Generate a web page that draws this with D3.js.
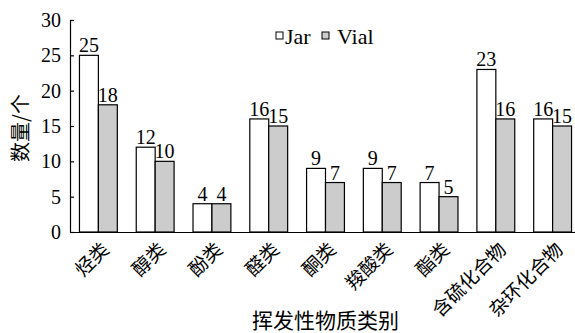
<!DOCTYPE html>
<html>
<head>
<meta charset="utf-8">
<script src="https://cdn.jsdelivr.net/npm/d3@7"></script>
<style>
  body { margin: 0; background: #fff; }
</style>
</head>
<body>
<div id="chart"></div>
<script>
// Chart data
const categories = ["烃类", "醇类", "酚类", "醛类", "酮类", "羧酸类", "酯类", "含硫化合物", "杂环化合物"];
const seriesNames = ["Jar", "Vial"];
const jarValues = [25, 12, 4, 16, 9, 9, 7, 23, 16];
const vialValues = [18, 10, 4, 15, 7, 7, 5, 16, 15];
const yTicks = [0, 5, 10, 15, 20, 25, 30];

const width = 575;
const height = 333;
const plot = { left: 70, right: 581, top: 20, bottom: 232 };
const colors = { Jar: "#ffffff", Vial: "#cccccc" };
const serif = "Liberation Serif, DejaVu Serif";
const cjk = "Noto Sans CJK SC";

const data = categories.map((c, i) => ({ cat: c, Jar: jarValues[i], Vial: vialValues[i] }));

const svg = d3.select("#chart")
    .append("svg")
    .attr("width", width)
    .attr("height", height);

// Scales
const x0 = d3.scaleBand()
    .domain(categories)
    .range([plot.left, plot.right])
    .padding(0);

const x1 = d3.scaleBand()
    .domain(seriesNames)
    .range([0, x0.bandwidth()])
    .paddingInner(0)
    .paddingOuter(0.5);

const y = d3.scaleLinear()
    .domain([0, 30])
    .range([plot.bottom, plot.top]);

// Bars
const groups = svg.selectAll(".group")
    .data(data)
    .enter()
    .append("g")
    .attr("class", "group")
    .attr("transform", d => `translate(${x0(d.cat)},0)`);

groups.selectAll("rect")
    .data(d => seriesNames.map(s => ({ key: s, value: d[s] })))
    .enter()
    .append("rect")
    .attr("x", d => x1(d.key))
    .attr("y", d => y(d.value))
    .attr("width", x1.bandwidth())
    .attr("height", d => y(0) - y(d.value))
    .attr("fill", d => colors[d.key])
    .attr("stroke", "#000")
    .attr("stroke-width", 1.2);

// Value labels
groups.selectAll(".val")
    .data(d => seriesNames.map(s => ({ key: s, value: d[s] })))
    .enter()
    .append("text")
    .attr("class", "val")
    .attr("x", d => x1(d.key) + x1.bandwidth() / 2)
    .attr("y", d => y(d.value) - 3)
    .attr("text-anchor", "middle")
    .attr("font-family", serif)
    .attr("font-size", 20)
    .text(d => d.value);

// Y axis (ticks pointing inward)
const yAxis = svg.append("g")
    .attr("transform", `translate(${plot.left},0)`)
    .call(d3.axisLeft(y).tickValues(yTicks).tickSizeInner(-4).tickSizeOuter(0).tickPadding(9))
    .attr("font-family", serif)
    .attr("font-size", 20);
yAxis.selectAll("text").attr("fill", "#000");
yAxis.selectAll("line, path").attr("stroke", "#000").attr("stroke-width", 1.2);

// X axis
const xAxis = svg.append("g")
    .attr("transform", `translate(0,${plot.bottom})`)
    .call(d3.axisBottom(x0).tickSize(0).tickSizeOuter(0).tickFormat(""));
xAxis.select("path").attr("stroke", "#000").attr("stroke-width", 1.2);

// Rotated category labels
svg.selectAll(".cat")
    .data(categories)
    .enter()
    .append("text")
    .attr("class", "cat")
    .attr("transform", d => `translate(${x0(d) + x0.bandwidth() / 2 + 7},${plot.bottom + 14}) rotate(-45)`)
    .attr("text-anchor", "end")
    .attr("dy", "0.35em")
    .attr("font-family", cjk)
    .attr("font-size", 19)
    .text(d => d);

// Axis titles
svg.append("text")
    .attr("x", (plot.left + plot.right) / 2)
    .attr("y", 328)
    .attr("text-anchor", "middle")
    .attr("font-family", cjk)
    .attr("font-size", 21)
    .text("挥发性物质类别");

svg.append("text")
    .attr("transform", `translate(28,128) rotate(-90)`)
    .attr("text-anchor", "middle")
    .attr("font-family", cjk)
    .attr("font-size", 20)
    .text("数量/个");

// Legend
const legend = svg.selectAll(".legend")
    .data(seriesNames)
    .enter()
    .append("g")
    .attr("class", "legend")
    .attr("transform", (d, i) => `translate(${276 + i * 46},32)`);

legend.append("rect")
    .attr("width", 7)
    .attr("height", 7)
    .attr("fill", d => colors[d])
    .attr("stroke", "#000")
    .attr("stroke-width", 1);

legend.append("text")
    .attr("x", (d, i) => i === 0 ? 9 : 15)
    .attr("y", 12)
    .attr("font-family", serif)
    .attr("font-size", 22)
    .text(d => d);
</script>
</body>
</html>
